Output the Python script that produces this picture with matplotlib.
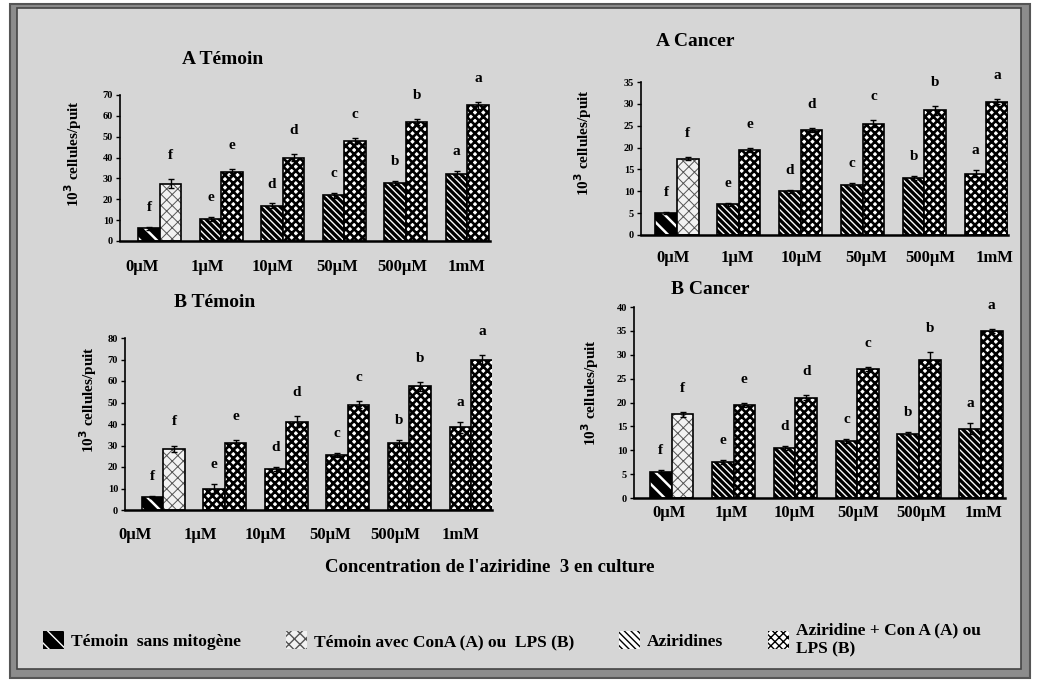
import numpy as np
import matplotlib.pyplot as plt
from matplotlib.patches import Patch, Rectangle

plt.rcParams['font.family'] = ['Liberation Serif', 'DejaVu Serif']
plt.rcParams['font.weight'] = 'bold'

W, H = 1037, 682

concentrations = ['0µM', '1µM', '10µM', '50µM', '500µM', '1mM']
letters = ['f', 'e', 'd', 'c', 'b', 'a']

# left bar: témoin sans mitogène at 0µM, aziridine alone after that
# right bar: témoin + ConA/LPS at 0µM, aziridine + ConA/LPS after that
a_temoin_left = [6, 10.5, 17, 22, 28, 32]
a_temoin_right = [27.5, 33, 40, 48, 57, 65]
a_temoin_left_err = [0.5, 1, 1, 1.2, 1, 1.5]
a_temoin_right_err = [2, 1.5, 1.5, 1.5, 1.5, 1.5]

a_cancer_left = [5, 7, 10, 11.5, 13, 14]
a_cancer_right = [17.5, 19.5, 24, 25.5, 28.5, 30.5]
a_cancer_left_err = [0.3, 0.4, 0.4, 0.4, 0.5, 0.8]
a_cancer_right_err = [0.4, 0.4, 0.5, 0.8, 1.0, 0.6]

b_temoin_left = [6, 10, 19, 25.5, 31, 38.5]
b_temoin_right = [28.5, 31, 41, 49, 57.5, 70]
b_temoin_left_err = [0.5, 2, 1, 1, 1.5, 2.5]
b_temoin_right_err = [1.5, 1.5, 2.5, 1.5, 2, 2]

b_cancer_left = [5.5, 7.5, 10.5, 12, 13.5, 14.5]
b_cancer_right = [17.5, 19.5, 21, 27, 29, 35]
b_cancer_left_err = [0.3, 0.4, 0.4, 0.4, 0.4, 1.2]
b_cancer_right_err = [0.5, 0.4, 0.5, 0.5, 1.5, 0.4]

# fill / hatch / hatch colour / hatch width for each bar kind
STYLES = {
    'ctrl': ('black', '\\\\', 'white', 1.8),
    'cona': ('#f2f2f2', 'xxx', '#555555', 0.7),
    'azir': ('white', '\\' * 5, 'black', 2.4),
    'both': ('white', 'xxxx', 'black', 1.9),
}


def px_rect(l, t, r, b):
    return [l / W, 1 - b / H, (r - l) / W, (b - t) / H]


def style_patch(kind):
    face, hatch, hcol, hlw = STYLES[kind]
    with plt.rc_context({'hatch.linewidth': hlw}):
        return Patch(facecolor=face, edgecolor=hcol, hatch=hatch, linewidth=0)


def draw_bar(ax, x, h, err, kind, width):
    face, hatch, hcol, hlw = STYLES[kind]
    with plt.rc_context({'hatch.linewidth': hlw}):
        ax.bar(x, h, width, color=face, edgecolor=hcol, hatch=hatch, linewidth=0)
    ax.bar(x, h, width, fill=False, edgecolor='black', linewidth=1.2)
    ax.errorbar(x, h, yerr=err, fmt='none', ecolor='black', elinewidth=1, capsize=2.5)


def draw_panel(box, title, title_xy, ylabel_xy, left, right, left_err, right_err,
               ymax, ystep, xlim, tick_shift, tick_scale, tick_pad, left_kinds):
    ax = fig.add_axes(px_rect(*box))
    ax.set_facecolor('none')
    g = np.arange(len(concentrations))
    w = 0.35
    for i in g:
        draw_bar(ax, i - w / 2, left[i], left_err[i], left_kinds[i], w)
        draw_bar(ax, i + w / 2, right[i], right_err[i], 'cona' if i == 0 else 'both', w)
        ax.annotate(letters[i], (i - w / 2, left[i] + left_err[i]), xytext=(0, 14),
                    textcoords='offset points', ha='center', va='center', fontsize=11)
        ax.annotate(letters[i], (i + w / 2, right[i] + right_err[i]), xytext=(0, 17),
                    textcoords='offset points', ha='center', va='center', fontsize=11)
    ax.set_xlim(*xlim)
    ax.set_ylim(0, ymax)
    ax.set_yticks(np.arange(0, ymax + 1, ystep))
    ax.set_xticks(tick_shift + tick_scale * g)
    ax.set_xticklabels(concentrations, fontsize=12)
    ax.tick_params(axis='x', length=0, pad=tick_pad)
    ax.tick_params(axis='y', length=3, width=1, labelsize=7.5, pad=2)
    for s in ['top', 'right']:
        ax.spines[s].set_visible(False)
    ax.spines['left'].set_linewidth(1.2)
    ax.spines['bottom'].set_linewidth(1.8)
    fig.text(title_xy[0] / W, 1 - title_xy[1] / H, title, ha='center', va='center', fontsize=14)
    fig.text(ylabel_xy[0] / W, 1 - ylabel_xy[1] / H, '10$^{\\mathbf{3}}$ cellules/puit',
             rotation=90, ha='center', va='center', fontsize=11)
    return ax


fig = plt.figure(figsize=(W / 100, H / 100), dpi=100)
fig.patch.set_facecolor('white')

# scanned card: dark rim and light grey inner panel
fig.patches.append(Rectangle((10 / W, 4 / H), 1020 / W, 674 / H, transform=fig.transFigure,
                             facecolor='#8c8c8c', edgecolor='#555555', linewidth=1.5, zorder=-10))
fig.patches.append(Rectangle((17 / W, 13 / H), 1004 / W, 661 / H, transform=fig.transFigure,
                             facecolor='#d6d6d6', edgecolor='#444444', linewidth=1.2, zorder=-9))

draw_panel((120, 95, 490, 241), 'A Témoin', (223, 59), (73, 154),
           a_temoin_left, a_temoin_right, a_temoin_left_err, a_temoin_right_err,
           70, 10, (-0.65, 5.37), -0.29, 1.057, 13,
           ['ctrl', 'azir', 'azir', 'azir', 'azir', 'azir'])
draw_panel((641, 82, 1008, 235), 'A Cancer', (695, 42), (583, 143),
           a_cancer_left, a_cancer_right, a_cancer_left_err, a_cancer_right_err,
           35, 5, (-0.58, 5.35), -0.06, 1.04, 11,
           ['ctrl', 'azir', 'azir', 'azir', 'azir', 'both'])
draw_panel((125, 338, 492, 510), 'B Témoin', (215, 302), (88, 400),
           b_temoin_left, b_temoin_right, b_temoin_left_err, b_temoin_right_err,
           80, 10, (-0.62, 5.34), -0.45, 1.055, 12,
           ['ctrl', 'both', 'both', 'both', 'both', 'both'])
draw_panel((634, 307, 1005, 498), 'B Cancer', (710, 289), (590, 393),
           b_cancer_left, b_cancer_right, b_cancer_left_err, b_cancer_right_err,
           40, 5, (-0.61, 5.39), -0.05, 1.02, 5,
           ['ctrl', 'azir', 'azir', 'azir', 'azir', 'azir'])

fig.text(490 / W, 1 - 568 / H, "Concentration de l'aziridine  3 en culture",
         ha='center', va='center', fontsize=13.5)

handles = [style_patch(k) for k in ['ctrl', 'cona', 'azir', 'both']]
labels = ['Témoin  sans mitogène', 'Témoin avec ConA (A) ou  LPS (B)',
          'Aziridines', 'Aziridine + Con A (A) ou\nLPS (B)']
fig.legend(handles, labels, loc='center', bbox_to_anchor=(512 / W, 1 - 640 / H),
           ncol=4, frameon=False, fontsize=12.5, handlelength=1.2, handleheight=1.2,
           handletextpad=0.4, columnspacing=2.6, labelspacing=0.1)

fig.savefig('out.png', dpi=100)
